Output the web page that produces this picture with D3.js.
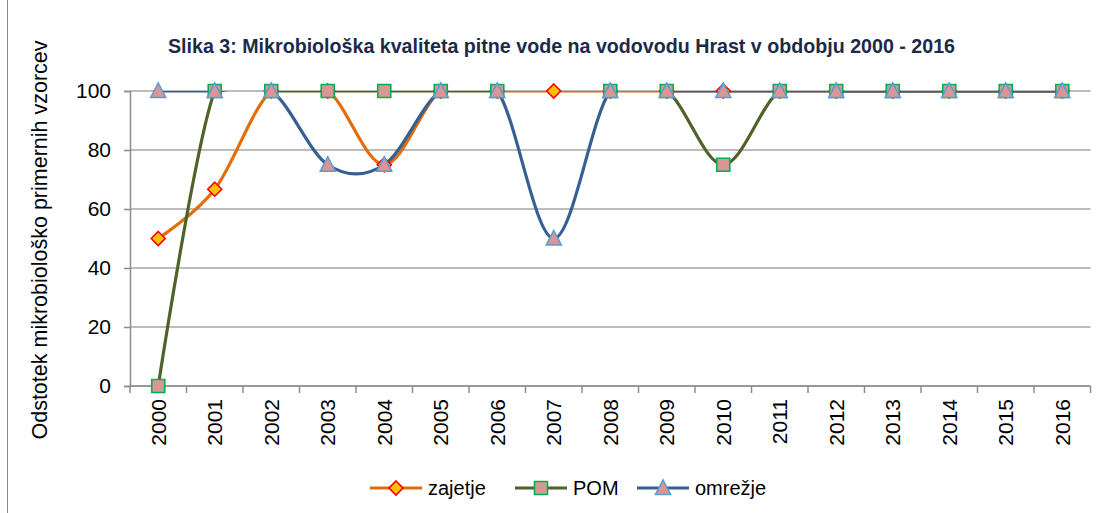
<!DOCTYPE html>
<html>
<head>
<meta charset="utf-8">
<script src="https://cdn.jsdelivr.net/npm/d3@7"></script>
<style>
  body { margin: 0; background: #fff; }
  svg { display: block; font-family: "Liberation Sans", Arial, sans-serif; }
</style>
</head>
<body>
<svg id="chart" width="1107" height="513"></svg>
<script>
// data
var years = ['2000','2001','2002','2003','2004','2005','2006','2007','2008',
             '2009','2010','2011','2012','2013','2014','2015','2016'];
var zajetje = [50, 66.7, 100, 100, 75, 100, 100, 100, 100, 100, 100, 100, 100, 100, 100, 100, 100];
var pom     = [0, 100, 100, 100, 100, 100, 100, null, 100, 100, 75, 100, 100, 100, 100, 100, 100];
var omrezje = [100, 100, 100, 75, 75, 100, 100, 50, 100, 100, 100, 100, 100, 100, 100, 100, 100];
var yTicks  = [0, 20, 40, 60, 80, 100];
var seriesNames = ['zajetje', 'POM', 'omrežje'];

var svg = d3.select('#chart');
var W = 1107, H = 513;
var plot = {left: 130, right: 1090.5, top: 91, bottom: 386};

// outer frame of the chart object
svg.append('line')
   .attr('x1', 7.5).attr('x2', 7.5).attr('y1', 0).attr('y2', H)
   .attr('stroke', '#8c8c8c').attr('stroke-width', 1);

var x = d3.scaleBand().domain(years).range([plot.left, plot.right]).padding(0);
var y = d3.scaleLinear().domain([0, 100]).range([plot.bottom, plot.top]);
var cx = function(i){ return x(years[i]) + x.bandwidth()/2; };

// title (condensed bold in the original)
svg.append('text')
   .attr('x', 168).attr('y', 53)
   .attr('textLength', 787).attr('lengthAdjust', 'spacingAndGlyphs')
   .attr('font-family', '"Liberation Sans Narrow", "Arial Narrow", "Liberation Sans", sans-serif')
   .attr('font-weight', 'bold')
   .attr('font-size', 21)
   .attr('fill', '#1c2a48')
   .text('Slika 3: Mikrobiološka kvaliteta pitne vode na vodovodu Hrast v obdobju 2000 - 2016');

// gridlines
svg.append('g').selectAll('line').data(yTicks).enter().append('line')
   .attr('x1', plot.left).attr('x2', plot.right)
   .attr('y1', function(d){ return y(d); }).attr('y2', function(d){ return y(d); })
   .attr('stroke', '#a6a6a6').attr('stroke-width', 1.6);

// y axis
var yAxis = d3.axisLeft(y).tickValues(yTicks).tickSize(6).tickPadding(13);
var gy = svg.append('g').attr('transform', 'translate(' + plot.left + ',0)').call(yAxis);
gy.select('.domain').attr('stroke', '#8c8c8c').attr('stroke-width', 1.5);
gy.selectAll('.tick line').attr('stroke', '#8c8c8c').attr('stroke-width', 1.5);
gy.selectAll('.tick text')
  .attr('font-family', '"Liberation Sans", Arial, sans-serif')
  .attr('font-size', 21).attr('fill', '#000');

// x axis: ticks sit between categories
var gx = svg.append('g').attr('transform', 'translate(0,' + plot.bottom + ')');
gx.append('line').attr('x1', plot.left).attr('x2', plot.right)
  .attr('stroke', '#8c8c8c').attr('stroke-width', 1.5);
gx.selectAll('line.tk').data(years.concat(['end'])).enter().append('line')
  .attr('class', 'tk')
  .attr('x1', function(d, i){ return plot.left + i * x.bandwidth(); })
  .attr('x2', function(d, i){ return plot.left + i * x.bandwidth(); })
  .attr('y1', 0).attr('y2', 7)
  .attr('stroke', '#8c8c8c').attr('stroke-width', 1.5);
gx.selectAll('text').data(years).enter().append('text')
  .attr('transform', function(d){ return 'translate(' + (x(d) + x.bandwidth()/2) + ',13) rotate(-90)'; })
  .attr('text-anchor', 'end')
  .attr('dy', '0.36em')
  .attr('font-size', 21)
  .attr('fill', '#000')
  .text(function(d){ return d; });

// y axis title
svg.append('text')
   .attr('transform', 'translate(39,240) rotate(-90)')
   .attr('text-anchor', 'middle')
   .attr('dy', '0.36em')
   .attr('font-size', 21.5)
   .attr('fill', '#000')
   .text('Odstotek mikrobiološko primernih vzorcev');

// series
var series = [
  {name: seriesNames[0], values: zajetje, color: '#e46c0a', marker: 'diamond', fill: '#ffc000', stroke: '#ff0000'},
  {name: seriesNames[1], values: pom,     color: '#4f6228', marker: 'square',  fill: '#d99694', stroke: '#00b050'},
  {name: seriesNames[2], values: omrezje, color: '#376092', marker: 'triangle', fill: '#d99694', stroke: '#5b9bd5'}
];

svg.append('clipPath').attr('id', 'plotclip')
   .append('rect')
   .attr('x', plot.left).attr('y', plot.top)
   .attr('width', plot.right - plot.left).attr('height', plot.bottom - plot.top);

var line = d3.line()
  .defined(function(d){ return d != null; })
  .x(function(d, i){ return cx(i); })
  .y(function(d){ return y(d); })
  .curve(d3.curveCardinal.tension(0));

var gLines = svg.append('g').attr('clip-path', 'url(#plotclip)');
series.forEach(function(s){
  gLines.append('path')
    .attr('d', line(s.values))
    .attr('fill', 'none')
    .attr('stroke', s.color)
    .attr('stroke-width', 3.2)
    .attr('stroke-linejoin', 'round');
});

function markerPath(type){
  if (type === 'diamond') return 'M0,-7L7,0L0,7L-7,0Z';
  if (type === 'square') return 'M-6.5,-6.5H6.5V6.5H-6.5Z';
  return 'M0,-8L7.5,6.5H-7.5Z';
}

function drawMarker(g, s, px, py){
  g.append('path')
    .attr('d', markerPath(s.marker))
    .attr('transform', 'translate(' + px + ',' + py + ')')
    .attr('fill', s.fill)
    .attr('stroke', s.stroke)
    .attr('stroke-width', 1.6)
    .attr('stroke-linejoin', 'miter');
}

var gMarks = svg.append('g');
series.forEach(function(s){
  s.values.forEach(function(v, i){
    if (v == null) return;
    drawMarker(gMarks, s, cx(i), y(v));
  });
});

// legend
var legendX = [370, 515, 637];
var legend = svg.append('g').attr('transform', 'translate(0,488)');
series.forEach(function(s, i){
  var lx = legendX[i];
  legend.append('line')
    .attr('x1', lx).attr('x2', lx + 52)
    .attr('stroke', s.color).attr('stroke-width', 3.2);
  drawMarker(legend, s, lx + 26, 0);
  legend.append('text')
    .attr('x', lx + 58).attr('dy', '0.36em')
    .attr('font-size', 20).attr('fill', '#000')
    .text(s.name);
});
</script>
</body>
</html>
